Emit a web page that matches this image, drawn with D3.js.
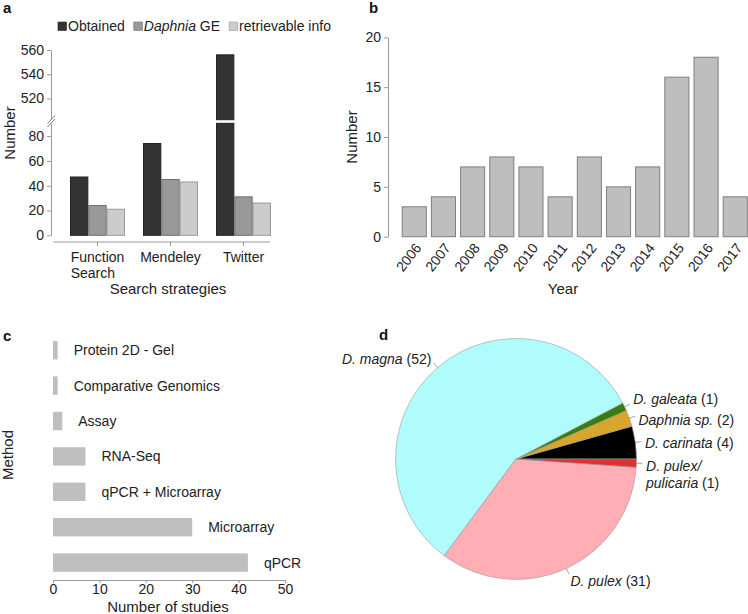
<!DOCTYPE html>
<html>
<head>
<meta charset="utf-8">
<script src="https://cdn.jsdelivr.net/npm/d3@7"></script>
<style>
  html, body { margin: 0; padding: 0; background: #fff; }
  svg { display: block; font-family: "Liberation Sans", Arial, sans-serif; }
  .axis path, .axis line { stroke: #999; }
  .axis text { fill: #222; font-size: 14px; font-family: "Liberation Sans", Arial, sans-serif; }
</style>
</head>
<body>
<svg id="chart" width="748" height="614"></svg>
<script>
// ---------- DATA ----------
// Panel a
const strategies = ["Function\nSearch", "Mendeley", "Twitter"];
const seriesNames = ["Obtained", "Daphnia GE", "retrievable info"];
const obtained = [47, 74, 556];
const daphniaGE = [24, 45, 31];
const retrievable = [21, 43, 26];
const aTicksLow = [0, 20, 40, 60, 80];
const aTicksHigh = [520, 540, 560];
// Panel b
const years = ["2006","2007","2008","2009","2010","2011","2012","2013","2014","2015","2016","2017"];
const yearCounts = [3, 4, 7, 8, 7, 4, 8, 5, 7, 16, 18, 4];
const bTicks = [0, 5, 10, 15, 20];
// Panel c
const methods = ["Protein 2D - Gel", "Comparative Genomics", "Assay", "RNA-Seq", "qPCR + Microarray", "Microarray", "qPCR"];
const methodCounts = [1, 1, 2, 7, 7, 30, 42];
const cTicks = [0, 10, 20, 30, 40, 50];
// Panel d
const species = ["D. carinata", "Daphnia sp.", "D. galeata", "D. magna", "D. pulex", "D. pulex/\npulicaria"];
const speciesCounts = [4, 2, 1, 52, 31, 1];

// ---------- STYLE ----------
const FONT = 14, TITLE = 15;
const seriesFill = ["#333333", "#999999", "#cccccc"];
const seriesStroke = ["#222222", "#6e6e6e", "#9a9a9a"];
const pieColors = ["#000000", "#d9a52a", "#3b7d0c", "#b0fcfc", "#ffaeb5", "#e0302f"];

const svg = d3.select("#chart");

function panelLabel(t, x, y) {
  svg.append("text").attr("x", x).attr("y", y).attr("font-size", 15)
    .attr("font-weight", "bold").attr("fill", "#111").text(t);
}
panelLabel("a", 3, 13);
panelLabel("b", 369, 13);
panelLabel("c", 3, 341);
panelLabel("d", 379, 340);

// ================= PANEL A =================
(function () {
  const gA = svg.append("g");
  const lowMax = 90.3, highMin = 502.5;
  const yLow = d3.scaleLinear().domain([0, lowMax]).range([235.3, 123.3]);
  const yHigh = d3.scaleLinear().domain([highMin, 560]).range([119.7, 50]);
  const x0 = d3.scaleBand().domain(strategies).range([53, 288]).paddingInner(0.247).paddingOuter(0.233);
  const x1 = d3.scaleBand().domain(seriesNames).range([0, x0.bandwidth()]);
  const series = [obtained, daphniaGE, retrievable];

  strategies.forEach((s, i) => {
    series.forEach((vals, j) => {
      const v = vals[i];
      const bx = x0(s) + x1(seriesNames[j]);
      const w = x1.bandwidth();
      const lowTop = v <= lowMax ? yLow(v) : yLow(lowMax);
      gA.append("rect").attr("x", bx + 0.5).attr("y", lowTop).attr("width", w - 1)
        .attr("height", yLow(0) - lowTop)
        .attr("fill", seriesFill[j]).attr("stroke", seriesStroke[j]).attr("stroke-width", 1);
      if (v > lowMax) {
        gA.append("rect").attr("x", bx + 0.5).attr("y", yHigh(v)).attr("width", w - 1)
          .attr("height", yHigh(highMin) - yHigh(v))
          .attr("fill", seriesFill[j]).attr("stroke", seriesStroke[j]).attr("stroke-width", 1);
      }
    });
  });

  // y axes
  gA.append("g").attr("class", "axis").attr("transform", "translate(51,0)")
    .call(d3.axisLeft(yLow).tickValues(aTicksLow).tickSize(4).tickSizeOuter(0));
  gA.append("g").attr("class", "axis").attr("transform", "translate(51,0)")
    .call(d3.axisLeft(yHigh).tickValues(aTicksHigh).tickSize(4).tickSizeOuter(0));
  // break marks
  [0, 3.5].forEach(o => {
    gA.append("line").attr("x1", 47.5).attr("y1", 123.5 + o).attr("x2", 55).attr("y2", 115.5 + o)
      .attr("stroke", "#777").attr("stroke-width", 1);
  });

  // x axis
  const xa = gA.append("g").attr("class", "axis").attr("transform", "translate(0,242)");
  xa.append("line").attr("x1", 53).attr("x2", 270).attr("y1", 0).attr("y2", 0).attr("stroke", "#999");
  strategies.forEach(s => {
    const cx = x0(s) + x0.bandwidth() / 2;
    xa.append("line").attr("x1", cx).attr("x2", cx).attr("y1", 0).attr("y2", 4).attr("stroke", "#999");
    const lines = s.split("\n");
    const t = gA.append("text").attr("font-size", FONT).attr("fill", "#222");
    lines.forEach((ln, k) => {
      t.append("tspan").attr("y", 261.7 + k * 16.5).text(ln);
    });
    let maxW = 0;
    t.selectAll("tspan").each(function () { maxW = Math.max(maxW, this.getComputedTextLength()); });
    t.selectAll("tspan").attr("x", cx - maxW / 2);
  });
  gA.append("text").attr("x", 168).attr("y", 293.5).attr("text-anchor", "middle")
    .attr("font-size", TITLE).attr("fill", "#222").text("Search strategies");
  gA.append("text").attr("transform", "translate(15,133) rotate(-90)").attr("text-anchor", "middle")
    .attr("font-size", TITLE).attr("fill", "#222").text("Number");

  // legend
  let lx = 58;
  seriesNames.forEach((name, j) => {
    gA.append("rect").attr("x", lx).attr("y", 22).attr("width", 8.5).attr("height", 8.5)
      .attr("fill", seriesFill[j]).attr("stroke", seriesStroke[j]).attr("stroke-width", 0.6);
    const t = gA.append("text").attr("x", lx + 10).attr("y", 31).attr("font-size", FONT).attr("fill", "#222");
    if (name.startsWith("Daphnia")) {
      t.append("tspan").attr("font-style", "italic").text("Daphnia");
      t.append("tspan").text(" GE");
    } else t.text(name);
    lx = lx + 10 + t.node().getComputedTextLength() + 9;
  });
})();

// ================= PANEL B =================
(function () {
  const gB = svg.append("g");
  const y = d3.scaleLinear().domain([0, 20]).range([236.7, 37.3]);
  const x = d3.scaleBand().domain(years).range([388, 761.5]).paddingInner(0.14).paddingOuter(0.47);
  gB.selectAll("rect").data(years).join("rect")
    .attr("x", d => x(d) + 0.5).attr("width", x.bandwidth() - 1)
    .attr("y", (d, i) => y(yearCounts[i])).attr("height", (d, i) => y(0) - y(yearCounts[i]))
    .attr("fill", "#bebebe").attr("stroke", "#7f7f7f").attr("stroke-width", 1);
  gB.append("g").attr("class", "axis").attr("transform", "translate(388,0)")
    .call(d3.axisLeft(y).tickValues(bTicks).tickSize(4).tickSizeOuter(0));
  years.forEach(yr => {
    const cx = x(yr) + x.bandwidth() / 2;
    gB.append("text").attr("transform", `translate(${cx + 4},${245}) rotate(-52)`)
      .attr("text-anchor", "end").attr("dy", "0.35em").attr("font-size", FONT).attr("fill", "#222").text(yr);
  });
  gB.append("text").attr("x", 563).attr("y", 293.5).attr("text-anchor", "middle")
    .attr("font-size", TITLE).attr("fill", "#222").text("Year");
  gB.append("text").attr("transform", "translate(357,137) rotate(-90)").attr("text-anchor", "middle")
    .attr("font-size", TITLE).attr("fill", "#222").text("Number");
})();

// ================= PANEL C =================
(function () {
  const gC = svg.append("g");
  const x = d3.scaleLinear().domain([0, 50]).range([53, 285]);
  const y = d3.scaleBand().domain(methods).range([332.5, 580.3]).paddingInner(0.48).paddingOuter(0.24);
  methods.forEach((m, i) => {
    gC.append("rect").attr("x", x(0)).attr("y", y(m)).attr("width", x(methodCounts[i]) - x(0))
      .attr("height", y.bandwidth()).attr("fill", "#bfbfbf");
    gC.append("text").attr("x", x(methodCounts[i]) + 16).attr("y", y(m) + y.bandwidth() / 2)
      .attr("dy", "0.35em").attr("font-size", FONT).attr("fill", "#222").text(m);
  });
  const ax = gC.append("g").attr("class", "axis").attr("transform", "translate(0,580)")
    .call(d3.axisBottom(x).tickValues(cTicks).tickSize(3).tickSizeOuter(0));
  ax.selectAll("text").attr("y", 4);
  gC.append("text").attr("x", 168).attr("y", 612).attr("text-anchor", "middle")
    .attr("font-size", TITLE).attr("fill", "#222").text("Number of studies");
  gC.append("text").attr("transform", "translate(13,455) rotate(-90)").attr("text-anchor", "middle")
    .attr("font-size", TITLE).attr("fill", "#222").text("Method");
})();

// ================= PANEL D =================
(function () {
  const cx = 516, cy = 459, r = 120.5;
  // small vertical nudges for label legibility (index follows slice order)
  const labelNudge = [2, 5, -3, -1, 4, 0];
  const gD = svg.append("g").attr("transform", `translate(${cx},${cy})`);
  const pie = d3.pie().sort(null).startAngle(Math.PI / 2).endAngle(Math.PI / 2 - 2 * Math.PI);
  const arcs = pie(speciesCounts);
  const arc = d3.arc().innerRadius(0).outerRadius(r);
  gD.selectAll("path").data(arcs).join("path")
    .attr("d", arc).attr("fill", (d, i) => pieColors[i])
    .attr("stroke", "#9a9a9a").attr("stroke-width", 0.6);
  arcs.forEach((a, i) => {
    const mid = (a.startAngle + a.endAngle) / 2; // d3 angle: clockwise from north
    const ux = Math.sin(mid), uy = -Math.cos(mid);
    gD.append("line").attr("x1", ux * r).attr("y1", uy * r).attr("x2", ux * r * 1.05).attr("y2", uy * r * 1.05)
      .attr("stroke", "#888").attr("stroke-width", 0.8);
    const lxp = ux * r * 1.08, lyp = uy * r * 1.08 + labelNudge[i];
    const t = gD.append("text").attr("font-size", FONT).attr("fill", "#222")
      .attr("text-anchor", ux >= 0 ? "start" : "end");
    const lines = species[i].split("\n");
    lines.forEach((ln, k) => {
      const ts = t.append("tspan").attr("x", lxp).attr("y", lyp + (lines.length > 1 ? 3 : 0) + k * 17)
        .attr("dy", "0.35em");
      ts.append("tspan").attr("font-style", "italic").text(ln);
      if (k === lines.length - 1) ts.append("tspan").text(" (" + speciesCounts[i] + ")");
    });
  });
})();
</script>
</body>
</html>
